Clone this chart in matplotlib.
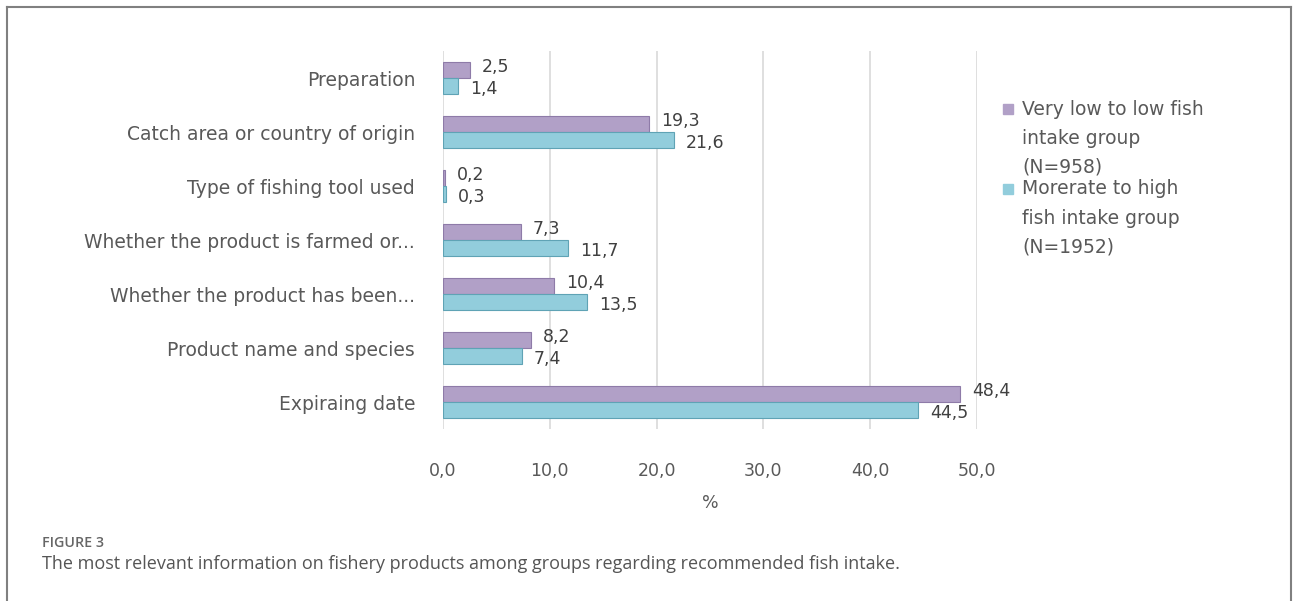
import numpy as np
import matplotlib.pyplot as plt
from matplotlib.lines import Line2D
from matplotlib.patches import Rectangle

# data, top to bottom as in the chart
categories = ["Preparation", "Catch area or country of origin", "Type of fishing tool used",
              "Whether the product is farmed or...", "Whether the product has been...",
              "Product name and species", "Expiraing date"]
low_group = [2.5, 19.3, 0.2, 7.3, 10.4, 8.2, 48.4]
high_group = [1.4, 21.6, 0.3, 11.7, 13.5, 7.4, 44.5]
series_labels = ["Very low to low fish\nintake group\n(N=958)",
                 "Morerate to high\nfish intake group\n(N=1952)"]
x_ticks = [0, 10, 20, 30, 40, 50]

purple = "#B1A0C7"
purple_dark = "#8E7BA8"
cyan = "#92CDDC"
cyan_dark = "#5FA3B5"
text_col = "#595959"

W, H = 1293, 601
fig = plt.figure(figsize=(W / 100, H / 100), dpi=100)
plt.rcParams['font.family'] = ['DejaVu Sans']

# axes placed in pixel terms
left, right, top, bottom = 443, 977, 51, 429
ax = fig.add_axes([left / W, 1 - bottom / H, (right - left) / W, (bottom - top) / H])

y = np.arange(len(categories))
bh = 0.3
ax.barh(y - bh / 2, low_group, height=bh, color=purple, edgecolor=purple_dark, linewidth=0.8, zorder=3)
ax.barh(y + bh / 2, high_group, height=bh, color=cyan, edgecolor=cyan_dark, linewidth=0.8, zorder=3)

for i in range(len(categories)):
    ax.annotate("{:.1f}".format(low_group[i]).replace(".", ","), (low_group[i], y[i] - bh / 2 - 0.05),
                xytext=(12, 0), textcoords="offset pixels", va="center", ha="left",
                fontsize=12.5, color="#404040", zorder=4)
    ax.annotate("{:.1f}".format(high_group[i]).replace(".", ","), (high_group[i], y[i] + bh / 2 + 0.05),
                xytext=(12, 0), textcoords="offset pixels", va="center", ha="left",
                fontsize=12.5, color="#404040", zorder=4)

ax.set_ylim(len(categories) - 0.5, -0.5)
ax.set_xlim(0, 50)
ax.set_yticks(y)
ax.set_yticklabels(categories, fontsize=13.5, color=text_col)
ax.set_xticks(x_ticks)
ax.set_xticklabels(["{:.1f}".format(v).replace(".", ",") for v in x_ticks], fontsize=12.5, color=text_col)
ax.tick_params(axis="both", length=0)
ax.tick_params(axis="x", pad=24)
ax.tick_params(axis="y", pad=20)
ax.set_xlabel("%", fontsize=12.5, color=text_col, labelpad=10)
ax.grid(axis="x", color="#D9D9D9", linewidth=1.2, zorder=0)
for s in ax.spines.values():
    s.set_visible(False)

# legend drawn by hand so the square sits on the first line
leg_x, line_h = 1022, 29
for k, (lab, col, yy) in enumerate(zip(series_labels, [purple, cyan], [109, 189])):
    fig.patches.append(Rectangle(((leg_x - 19) / W, 1 - (yy + 5) / H), 10 / W, 10 / H,
                                 transform=fig.transFigure, color=col, figure=fig))
    for j, line in enumerate(lab.split("\n")):
        fig.text(leg_x / W, 1 - (yy + j * line_h) / H, line, fontsize=13.5, color=text_col, va="center")

# outer frame
fig.add_artist(Line2D([7 / W, 7 / W], [0, 1 - 7 / H], color="#808080", linewidth=1.5))
fig.add_artist(Line2D([7 / W, 1291 / W], [1 - 7 / H, 1 - 7 / H], color="#808080", linewidth=1.5))
fig.add_artist(Line2D([1291 / W, 1291 / W], [0, 1 - 7 / H], color="#808080", linewidth=1.5))

# caption
fig.text(42 / W, 1 - 543 / H, "FIGURE 3", fontsize=10.3, color="#666666", fontweight="semibold",
         family="Open Sans", va="center")
fig.text(42 / W, 1 - 564 / H, "The most relevant information on fishery products among groups regarding recommended fish intake.",
         fontsize=13, color="#555555", family="Open Sans", va="center")

fig.savefig("out.png", dpi=100)
